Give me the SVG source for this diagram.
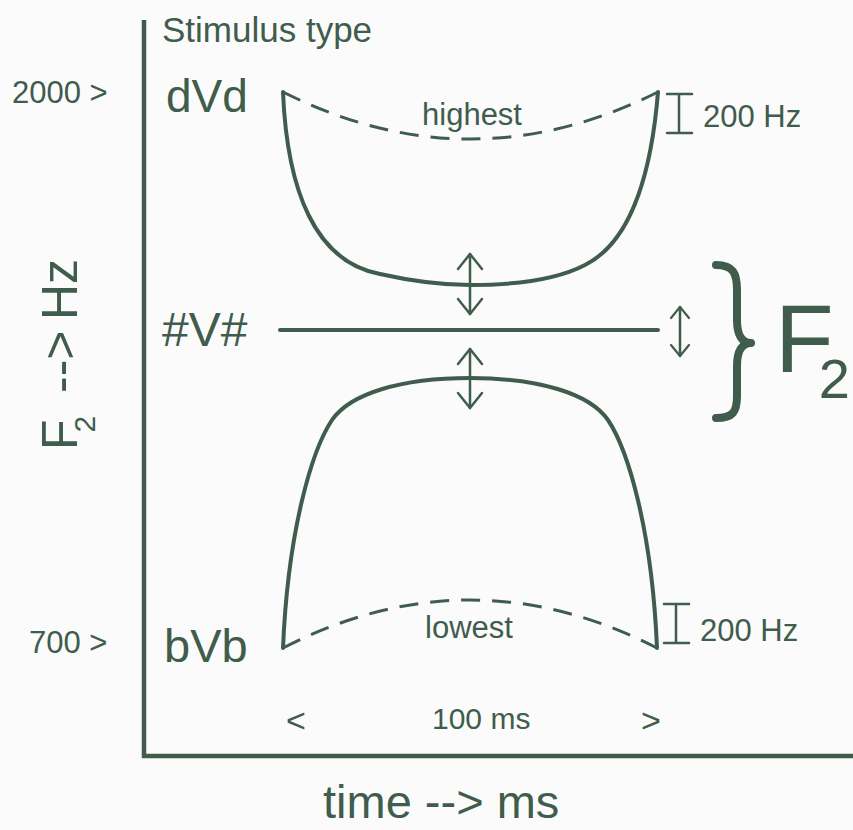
<svg xmlns="http://www.w3.org/2000/svg" width="853" height="830" viewBox="0 0 853 830">
<style>
  text { font-family: "Liberation Sans", Arial, sans-serif; fill: #3f5c4c; }
  .solid { fill: none; stroke: #3f5c4c; stroke-width: 4; stroke-linecap: round; stroke-linejoin: round; }
  .dash { fill: none; stroke: #3f5c4c; stroke-width: 3; stroke-dasharray: 19 12; }
  .thin { fill: none; stroke: #3f5c4c; stroke-width: 2.5; stroke-linecap: round; }
  .axis { fill: none; stroke: #3f5c4c; stroke-width: 4.5; }
</style>
<defs>
  <marker id="ah" markerUnits="userSpaceOnUse" viewBox="-17 -16 20 32" markerWidth="20" markerHeight="32" refX="0" refY="0" orient="auto-start-reverse">
    <path d="M-15,-12 L0,0 L-15,12" fill="none" stroke="#3f5c4c" stroke-width="2.5" stroke-linecap="round" stroke-linejoin="round"/>
  </marker>
  <marker id="ahs" markerUnits="userSpaceOnUse" viewBox="-14 -12 16 24" markerWidth="16" markerHeight="24" refX="0" refY="0" orient="auto-start-reverse">
    <path d="M-11,-9 L0,0 L-11,9" fill="none" stroke="#3f5c4c" stroke-width="2.2" stroke-linecap="round" stroke-linejoin="round"/>
  </marker>
</defs>
<rect width="853" height="830" fill="#fafbfa"/>

<g id="axes">
  <line class="axis" x1="144" y1="20" x2="144" y2="758"/>
  <line class="axis" x1="142" y1="756" x2="853" y2="756"/>
</g>

<g id="axis-labels">
  <text x="162" y="42" font-size="35">Stimulus type</text>
  <text x="12" y="103" font-size="31">2000 &gt;</text>
  <text x="29" y="653" font-size="31">700 &gt;</text>
  <text x="323" y="818" font-size="47">time --&gt; ms</text>
  <g transform="translate(77,450) rotate(-90)">
    <text x="0" y="0" font-size="50">F<tspan dx="-13" dy="18" font-size="30">2</tspan><tspan x="57" y="0">--&gt;</tspan><tspan x="130" y="0">Hz</tspan></text>
  </g>
  <text x="286" y="732" font-size="34">&lt;</text>
  <text x="432" y="729" font-size="30">100 ms</text>
  <text x="641" y="732" font-size="34">&gt;</text>
</g>

<g id="node-dVd">
  <text x="166" y="112" font-size="46">dVd</text>
  <path class="solid" d="M283,92 C287,190 315,262 380,274 C420,283 450,285 470,285 C520,285 560,278 585,265 C625,245 650,190 658,92"/>
  <path class="dash" d="M283,92 Q470,186 658,92"/>
  <text x="472" y="125" font-size="31" text-anchor="middle">highest</text>
</g>

<g id="node-V">
  <text x="162" y="346" font-size="48">#V#</text>
  <line class="solid" x1="280" y1="330" x2="658" y2="330"/>
</g>

<g id="node-bVb">
  <text x="164" y="662" font-size="47">bVb</text>
  <path class="solid" d="M283,648 C288,530 312,450 332,420 C350,394 400,378 470,378 C540,378 590,394 608,420 C628,450 652,530 657,648"/>
  <path class="dash" d="M283,648 Q470,552 657,648"/>
  <text x="469" y="638" font-size="31" text-anchor="middle">lowest</text>
</g>

<g id="scale-200hz-top">
  <path class="thin" d="M679,94 L679,133 M667,94 L692,94 M667,133 L692,133"/>
  <text x="703" y="127" font-size="31">200 Hz</text>
</g>
<g id="scale-200hz-bottom">
  <path class="thin" d="M676,604 L676,643 M664,604 L689,604 M664,643 L689,643"/>
  <text x="700" y="641" font-size="31">200 Hz</text>
</g>

<g id="F2-label">
  <path fill="none" stroke="#3f5c4c" stroke-width="8" stroke-linecap="round" stroke-linejoin="round" d="M716,265 C733,265 737,273 737,290 L737,320 C737,335 742,343 751,343 C742,343 737,351 737,366 L737,396 C737,412 733,418 716,418"/>
  <text x="775" y="372" font-size="96">F<tspan dx="-15" dy="26" font-size="56">2</tspan></text>
</g>

<g id="connectors">
  <line class="thin" x1="470" y1="254" x2="470" y2="314" marker-start="url(#ah)" marker-end="url(#ah)"/>
  <line class="thin" x1="470" y1="349" x2="470" y2="408" marker-start="url(#ah)" marker-end="url(#ah)"/>
  <line class="thin" x1="680" y1="307" x2="680" y2="356" marker-start="url(#ahs)" marker-end="url(#ahs)"/>
</g>
</svg>
